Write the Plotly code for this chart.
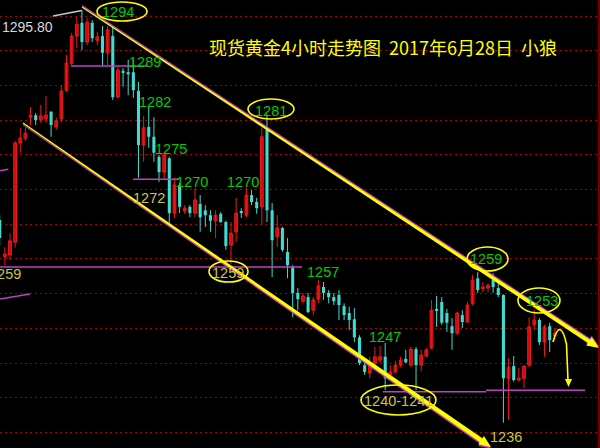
import math
import plotly.graph_objects as go

# ---------------- data (4h gold candles) ----------------
opens = [1265.6, 1260.3, 1260.55, 1262.4, 1276.7, 1277.4, 1280.4, 1280.7, 1280.0, 1280.2,
         1281.2, 1279.0, 1280.2, 1284.3, 1288.2, 1292.1, 1294.0, 1291.25, 1294.0, 1291.5,
         1292.1, 1289.7, 1292.1, 1283.3, 1287.1, 1286.9, 1286.9, 1284.2, 1276.4, 1279.0,
         1277.6, 1274.7, 1272.5, 1274.5, 1266.6, 1270.65, 1266.9, 1267.5, 1266.6, 1267.9,
         1267.0, 1266.3, 1265.5, 1266.5, 1265.3, 1262.0, 1263.9, 1266.9, 1266.3, 1269.2,
         1268.2, 1267.5, 1278.6, 1267.0, 1263.2, 1264.45, 1261.0, 1258.8, 1255.1, 1253.9,
         1254.5, 1252.6, 1254.2, 1255.95, 1255.1, 1254.5, 1254.8, 1253.2, 1252.2, 1251.3,
         1248.7, 1244.7, 1243.55, 1245.0, 1245.4, 1245.9, 1243.0, 1243.7, 1244.7, 1245.6,
         1244.7, 1247.0, 1244.7, 1246.0, 1247.15, 1252.8, 1253.8, 1252.2, 1250.3, 1249.3,
         1251.9, 1250.9, 1253.6, 1257.2, 1255.7, 1255.8, 1256.95, 1255.8, 1254.8, 1242.8,
         1244.55, 1242.55, 1242.8, 1244.7, 1250.5, 1251.2, 1248.0, 1250.3, 1248.9]
closes = [1263.0, 1260.7, 1262.6, 1276.7, 1277.4, 1278.1, 1280.7, 1280.0, 1280.6, 1280.7,
          1279.3, 1279.9, 1284.2, 1288.2, 1292.1, 1293.8, 1291.25, 1294.1, 1291.8, 1292.0,
          1289.7, 1293.0, 1283.3, 1287.2, 1286.8, 1286.6, 1284.3, 1276.4, 1278.9, 1277.6,
          1275.3, 1272.5, 1275.0, 1266.6, 1270.65, 1267.5, 1267.3, 1266.6, 1268.5, 1266.0,
          1266.3, 1265.5, 1266.3, 1265.3, 1261.85, 1263.7, 1266.6, 1266.6, 1269.2, 1268.2,
          1267.3, 1277.6, 1267.0, 1262.7, 1264.45, 1261.3, 1259.1, 1255.1, 1254.2, 1254.65,
          1252.35, 1254.1, 1256.1, 1255.1, 1254.5, 1253.9, 1253.35, 1251.9, 1251.2, 1248.7,
          1245.0, 1243.7, 1244.55, 1245.9, 1245.9, 1242.8, 1243.7, 1244.7, 1245.4, 1245.1,
          1247.0, 1244.7, 1246.15, 1246.9, 1252.6, 1252.5, 1250.8, 1250.8, 1249.3, 1252.2,
          1250.9, 1253.35, 1256.95, 1255.5, 1255.95, 1256.2, 1255.95, 1254.8, 1242.8, 1244.4,
          1242.55, 1242.8, 1244.55, 1250.2, 1251.2, 1248.0, 1250.2, 1248.3, 1249.3]
highs = [1266.3, 1261.7, 1263.7, 1277.0, 1278.9, 1278.9, 1281.9, 1281.0, 1282.2, 1283.5,
         1281.3, 1280.4, 1285.05, 1289.4, 1292.55, 1294.85, 1295.8, 1294.7, 1294.4, 1292.7,
         1293.55, 1293.55, 1293.4, 1287.8, 1287.5, 1288.7, 1288.7, 1285.5, 1280.6, 1281.9,
         1280.4, 1275.0, 1275.3, 1274.7, 1271.7, 1271.0, 1267.75, 1267.75, 1270.2, 1269.2,
         1267.75, 1267.0, 1267.0, 1266.75, 1265.5, 1265.3, 1268.8, 1267.3, 1270.2, 1269.9,
         1268.8, 1278.9, 1280.9, 1268.05, 1266.3, 1264.6, 1263.0, 1259.1, 1255.8, 1255.1,
         1255.1, 1254.5, 1256.95, 1256.7, 1255.5, 1255.1, 1255.5, 1253.6, 1253.1, 1252.9,
         1249.0, 1245.1, 1245.9, 1247.3, 1247.45, 1247.9, 1244.7, 1245.3, 1245.9, 1246.9,
         1247.3, 1247.3, 1246.9, 1247.15, 1254.1, 1254.65, 1254.5, 1252.8, 1251.5, 1252.35,
         1252.6, 1253.8, 1257.7, 1258.1, 1256.7, 1256.5, 1257.95, 1256.5, 1254.9, 1245.7,
         1246.0, 1244.3, 1244.7, 1251.6, 1252.6, 1251.5, 1250.5, 1250.8, 1250.05]
lows = [1262.0, 1259.1, 1259.85, 1261.6, 1275.3, 1277.0, 1279.3, 1279.3, 1279.6, 1279.6,
        1277.6, 1278.6, 1279.7, 1284.05, 1287.9, 1290.4, 1290.1, 1290.8, 1291.25, 1290.8,
        1287.9, 1287.9, 1282.9, 1283.2, 1284.8, 1283.6, 1283.2, 1271.7, 1274.0, 1276.0,
        1274.0, 1271.1, 1271.4, 1265.2, 1265.9, 1266.6, 1266.5, 1266.0, 1266.0, 1263.9,
        1264.6, 1263.9, 1263.0, 1265.2, 1261.3, 1259.3, 1262.4, 1265.9, 1266.0, 1267.75,
        1266.5, 1265.0, 1265.3, 1257.4, 1261.7, 1261.0, 1257.2, 1251.6, 1252.6, 1253.6,
        1252.2, 1251.9, 1253.6, 1254.1, 1253.6, 1253.35, 1251.2, 1251.2, 1249.75, 1248.0,
        1244.7, 1243.3, 1242.8, 1244.7, 1245.0, 1241.1, 1242.55, 1243.55, 1244.4, 1245.0,
        1244.4, 1241.1, 1243.8, 1245.9, 1247.0, 1250.2, 1250.5, 1249.5, 1246.9, 1249.0,
        1250.05, 1250.8, 1253.35, 1255.1, 1255.2, 1255.2, 1255.1, 1254.5, 1236.4, 1236.8,
        1242.3, 1242.3, 1241.4, 1244.4, 1249.75, 1247.6, 1245.9, 1246.6, 1248.3]

grid_prices = [1235, 1240, 1245, 1250, 1255, 1260, 1265, 1270, 1275, 1280, 1285, 1290, 1295]
title_text = "现货黄金4小时走势图\u00a0\u00a02017年6月28日\u00a0\u00a0小狼"

# ---------------- pixel <-> data helpers (for overlay drawings) ----------------
X0, DX = -0.3, 5.14
P0, PPU = 1297.305, 6.94


def fx(px):
    return (px - X0) / DX


def fy(py):
    return P0 - py / PPU


RED_LINE = "#f01818"
RED_FILL = "#b00000"
CYAN = "#40dcd0"
YEL = "#ffff00"
MAG = "#c040c0"
GREEN = "#00cc00"
OLIVE = "#c8c846"

idx = list(range(len(opens)))
up = [i for i in idx if closes[i] >= opens[i]]
dn = [i for i in idx if closes[i] < opens[i]]


def body(ids):
    base = [min(opens[i], closes[i]) for i in ids]
    h = [max(abs(closes[i] - opens[i]), 0.15) for i in ids]
    return base, h


def wicks(ids):
    xs, ys = [], []
    for i in ids:
        xs += [i, i, None]
        ys += [lows[i], highs[i], None]
    return xs, ys


fig = go.Figure()
for ids, col in ((up, RED_LINE), (dn, CYAN)):
    wx, wy = wicks(ids)
    fig.add_trace(go.Scatter(x=wx, y=wy, mode="lines", line=dict(color=col, width=1),
                             hoverinfo="skip"))
bu, hu = body(up)
fig.add_trace(go.Bar(x=up, y=hu, base=bu, width=0.55,
                     marker=dict(color=RED_FILL, line=dict(color=RED_LINE, width=1)),
                     hoverinfo="skip"))
bd, hd = body(dn)
fig.add_trace(go.Bar(x=dn, y=hd, base=bd, width=0.6,
                     marker=dict(color=CYAN, line=dict(color=CYAN, width=0)),
                     hoverinfo="skip"))

shapes = []


def seg(x0, y0, x1, y1, color, width):
    shapes.append(dict(type="line", xref="x", yref="y", x0=fx(x0), y0=fy(y0),
                       x1=fx(x1), y1=fy(y1), line=dict(color=color, width=width)))


def poly(pts, color):
    d = "M " + " L ".join(f"{fx(a):.4f},{fy(b):.4f}" for a, b in pts) + " Z"
    shapes.append(dict(type="path", xref="x", yref="y", path=d, fillcolor=color,
                       line=dict(width=0)))


def taper(p0, tip, w0, w1, color, off=0.0, head=True):
    ux, uy = tip[0] - p0[0], tip[1] - p0[1]
    L = math.hypot(ux, uy)
    ux, uy = ux / L, uy / L
    nx, ny = -uy, ux
    e = (tip[0] - ux * 8, tip[1] - uy * 8) if head else tip
    pts = [(p0[0] + nx * w0 / 2, p0[1] + ny * w0 / 2 + off),
           (e[0] + nx * w1 / 2, e[1] + ny * w1 / 2 + off),
           (e[0] - nx * w1 / 2, e[1] - ny * w1 / 2 + off),
           (p0[0] - nx * w0 / 2, p0[1] - ny * w0 / 2 + off)]
    poly(pts, color)
    if head:
        b = (tip[0] - ux * 12, tip[1] - uy * 12)
        poly([(tip[0], tip[1] + off), (b[0] + nx * 5, b[1] + ny * 5 + off),
              (b[0] - nx * 5, b[1] - ny * 5 + off)], color)


def ellipse(x0, y0, x1, y1):
    shapes.append(dict(type="circle", xref="x", yref="y", x0=fx(x0), x1=fx(x1),
                       y0=fy(y0), y1=fy(y1), line=dict(color=YEL, width=1.6)))


# horizontal level lines (magenta)
seg(71, 66, 148, 66, MAG, 1.5)
seg(133, 179.3, 179, 179.3, MAG, 1.5)
seg(0, 267, 302, 267, MAG, 1.5)
seg(383, 391.7, 486, 391.7, MAG, 1.5)
seg(486, 390.3, 585, 390.3, MAG, 1.5)
seg(0, 170.7, 8.3, 169.3, MAG, 1.5)
seg(0, 299, 30, 294, MAG, 1.5)

# channel lines
taper((82, 7), (599, 348), 1.0, 4.0, MAG, off=-1.5)
taper((82, 7), (599, 348), 1.2, 4.0, YEL)
taper((23, 123), (491, 447), 1.0, 4.5, MAG, off=1.6)
taper((23, 123), (491, 447), 1.2, 4.5, YEL)

# 1295.80 pointer
seg(53, 16, 82, 10.4, "#c8c8c8", 1.5)

# curved forecast arrow
cpath = (f"M {fx(553):.4f},{fy(342):.4f} Q {fx(560):.4f},{fy(316):.4f} "
         f"{fx(566.5):.4f},{fy(344):.4f} L {fx(568):.4f},{fy(381):.4f}")
shapes.append(dict(type="path", xref="x", yref="y", path=cpath,
                   line=dict(color=YEL, width=1.6)))
poly([(568.5, 387), (565, 379), (572, 379)], YEL)

# ellipses
ellipse(97, 2, 147, 21)
ellipse(248, 99, 294, 119)
ellipse(209, 261, 248, 282)
ellipse(467, 247, 508, 271)
ellipse(518, 288, 560, 313)
ellipse(361, 385, 436, 415)

# right border
seg(599, 0, 599, 448, "#c00000", 1.2)

annotations = []


def lab(text, x, y, color, size=14.5, anchor="center"):
    annotations.append(dict(x=fx(x), y=fy(y), xref="x", yref="y", text=text,
                            showarrow=False, xanchor=anchor, yanchor="middle",
                            font=dict(family="Liberation Sans, Arial", size=size,
                                      color=color)))


lab("1295.80", 27, 26.5, "#d8d8d8", 14)
lab("1294", 118, 12, GREEN)
lab("1289", 145, 62, GREEN)
lab("1282", 155, 101.5, GREEN)
lab("1275", 170.5, 148.5, GREEN)
lab("1270", 192, 182, GREEN)
lab("1270", 243, 182, GREEN)
lab("1272", 149, 198, OLIVE)
lab("1281", 271, 110.5, GREEN)
lab("1259", 5, 273.5, OLIVE)
lab("1259", 228, 272.5, OLIVE)
lab("1257", 322.5, 272, GREEN)
lab("1247", 385, 336.5, GREEN)
lab("1240-1241", 398.5, 400.5, OLIVE)
lab("1259", 486, 259, GREEN)
lab("1253", 542, 300.5, GREEN)
lab("1236", 506, 437, OLIVE)

annotations.append(dict(x=fx(207), y=fy(47), xref="x", yref="y", text=title_text,
                        showarrow=False, xanchor="left", yanchor="middle",
                        font=dict(family="Noto Sans CJK SC", size=18, color=YEL)))

fig.update_layout(
    width=600, height=448, margin=dict(l=0, r=0, t=0, b=0),
    paper_bgcolor="black", plot_bgcolor="black",
    showlegend=False, barmode="overlay",
    shapes=shapes, annotations=annotations,
    xaxis=dict(range=[fx(0), fx(600)], visible=False, fixedrange=True),
    yaxis=dict(range=[fy(448), fy(0)], tickvals=grid_prices, showticklabels=False,
               showgrid=True, gridcolor="#a80000", gridwidth=1, griddash="2px,3px",
               zeroline=False, showline=False, ticks="", fixedrange=True),
)

fig.write_html(
    "out.html",
    config={"displayModeBar": False},
    post_script="document.body.style.margin='0px';document.body.style.padding='0px';"
                "document.body.style.overflow='hidden';document.body.style.background='black';",
)
